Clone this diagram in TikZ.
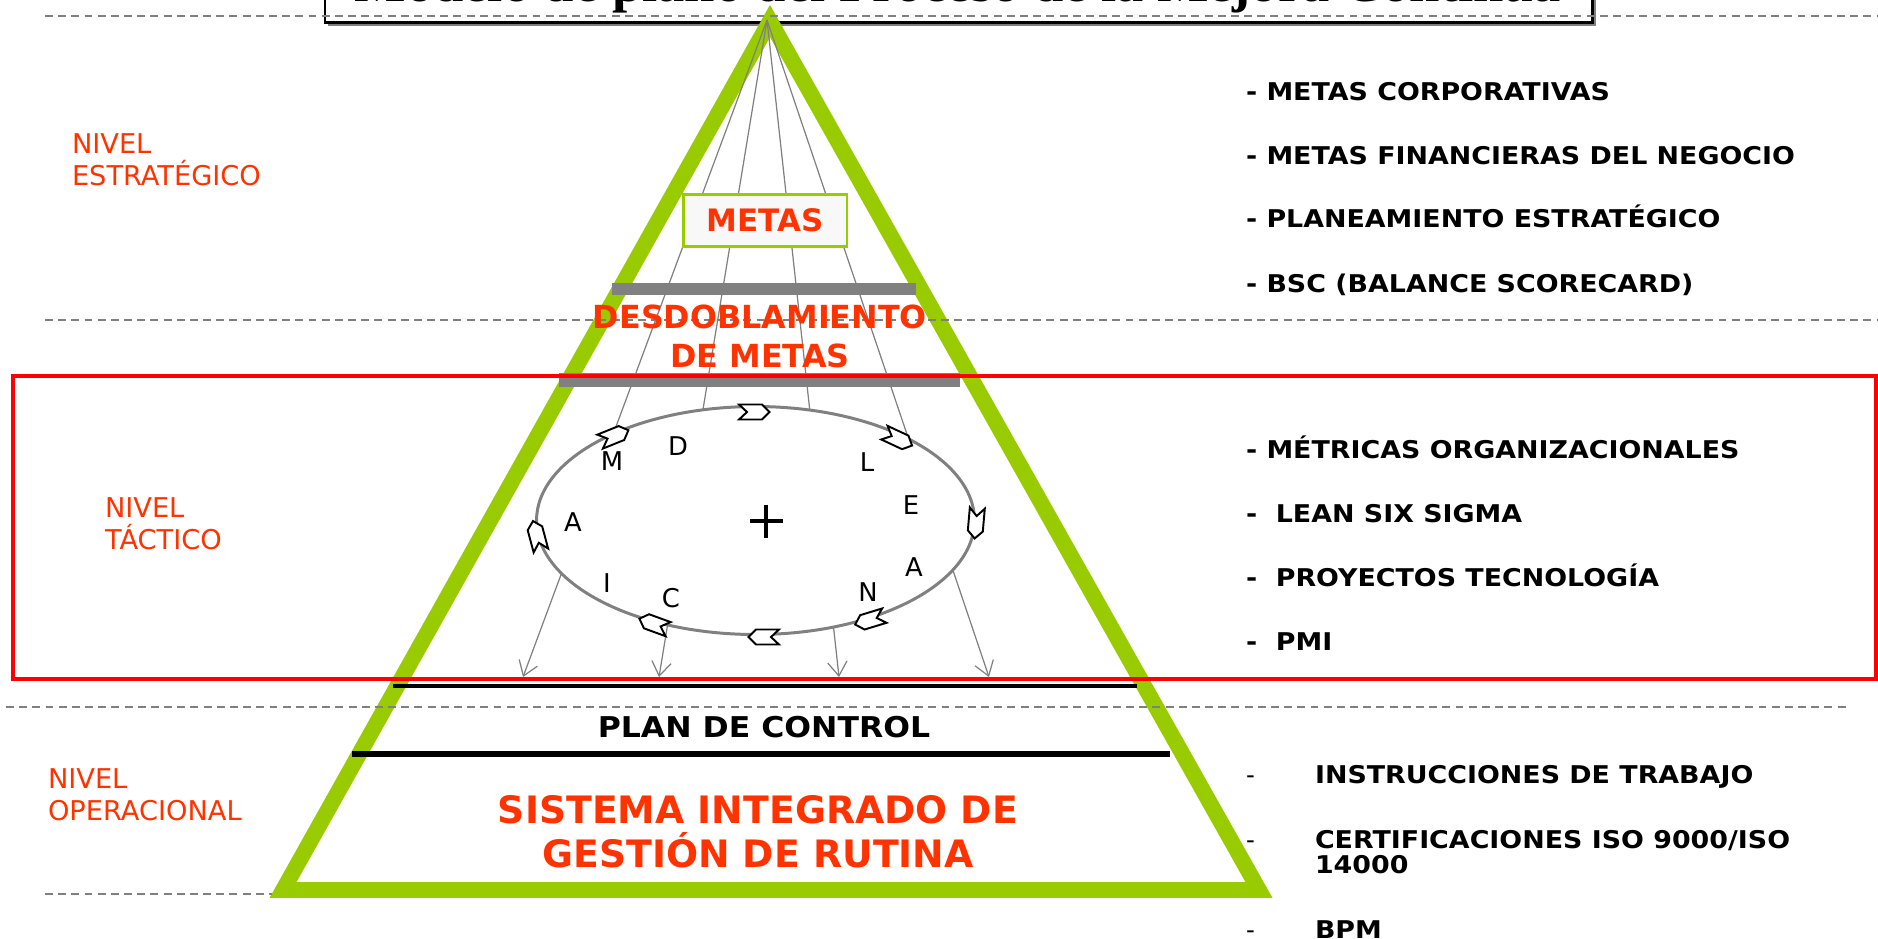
\documentclass[tikz,border=0pt]{standalone}
\usepackage{fontspec}
\setmainfont{DejaVu Sans}
\newfontfamily\vbs{DejaVu Sans}[FakeStretch=1.1]
\newfontfamily\vbn{DejaVu Sans}
\newfontfamily\ttl{Liberation Serif}
\usetikzlibrary{arrows.meta}
\definecolor{tgreen}{RGB}{153,204,0}
\definecolor{torange}{RGB}{255,51,0}
\definecolor{mgray}{RGB}{128,128,128}
\definecolor{boxfill}{RGB}{248,248,248}
\begin{document}
\begin{tikzpicture}[x=0.02cm,y=0.02cm,
  every node/.style={inner sep=0pt, outer sep=0pt},
  dashln/.style={draw=mgray, line width=1.1pt, dash pattern=on 4.5pt off 3pt},
  fan/.style={draw=mgray, line width=0.7pt, -{Straight Barb[length=8pt,width=11pt]}},
  bar/.style={draw=mgray},
  blackbar/.style={draw=black},
  chev/.style={draw=black, fill=white, line width=1.1pt, line join=miter},
  listitem/.style={anchor=base west, font=\vbs\bfseries\fontsize{13.9pt}{16pt}\selectfont},
  dashitem/.style={anchor=base west, font=\vbn\fontsize{13.9pt}{16pt}\selectfont},
  levellabel/.style={anchor=base west, text=torange, font=\vbn\fontsize{15.5pt}{18pt}\selectfont},
  cycleletter/.style={font=\vbn\fontsize{14.7pt}{17pt}\selectfont},
  centertitle/.style={anchor=base, text=torange, font=\vbn\bfseries\fontsize{18.1pt}{21pt}\selectfont},
  bigtitle/.style={anchor=base, text=torange, font=\vbn\bfseries\fontsize{21.5pt}{25pt}\selectfont}
]
\useasboundingbox (0,0) rectangle (1878,-938);

% title box (cut off at the top)
\draw[mgray, line width=1.2pt] (328,-25) -- (1595,-25) -- (1595,40);
\draw[black, line width=1.7pt] (325,40) rectangle (1592,-22);
\node[anchor=base, font=\ttl\bfseries\fontsize{31pt}{35pt}\selectfont] (title) at (958,-1) {Modelo de plano del Proceso de la Mejora Continua};

% pyramid
\draw[tgreen, line width=9pt, line join=miter, miter limit=10] (770,-21) -- (1259,-890) -- (283,-890) -- cycle;

% fan lines
\coordinate (apex) at (767,-20);
\coordinate (t1) at (523,-677);
\coordinate (t2) at (659,-677);
\coordinate (t3) at (839,-677);
\coordinate (t4) at (989,-677);
\foreach \t in {t1,t2,t3,t4} \draw[fan] (apex) -- (\t);

% cycle ellipse
\draw[mgray, fill=white, line width=1.7pt] (755.5,-520.5) ellipse [x radius=219, y radius=114];
\draw[line width=2.3pt] (749.5,-521) -- (782.5,-521) (766,-504.5) -- (766,-537.5);
\foreach \cx/\cy/\ang in {754/412/0, 898/439/-25, 976/523/-95, 870/620/-163, 764/637/180, 654/624/160, 537/536/105, 614/436/22}
  \draw[chev, shift={(\cx,-\cy)}, rotate=\ang] (-15,7.5) -- (8,7.5) -- (15.5,0) -- (8,-7.5) -- (-15,-7.5) -- (-7,0) -- cycle;
\node[cycleletter] (lM) at (612,-461) {M};
\node[cycleletter] (lD) at (678,-446) {D};
\node[cycleletter] (lL) at (867,-462) {L};
\node[cycleletter] (lE) at (911,-505) {E};
\node[cycleletter] (lA1) at (573,-522) {A};
\node[cycleletter] (lA2) at (914,-567) {A};
\node[cycleletter] (lI) at (607,-583) {I};
\node[cycleletter] (lC) at (671,-598) {C};
\node[cycleletter] (lN) at (868,-592) {N};

% METAS box
\node[draw=tgreen, fill=boxfill, line width=1.7pt, minimum width=3.28cm, minimum height=1.04cm] (metasbox) at (765,-220) {};
\node[anchor=center, text=torange, font=\vbn\bfseries\fontsize{17.6pt}{20pt}\selectfont] (metas) at (765,-220.5) {METAS};

% bars
\draw[bar, line width=6.8pt] (612,-289) -- (916,-289);
\draw[bar, line width=7.9pt] (559,-380) -- (960,-380);
\draw[blackbar, line width=2.8pt] (393,-686) -- (1137,-686);
\draw[blackbar, line width=3.4pt] (352,-754) -- (1170,-754);

% dashed level lines
\draw[dashln] (45,-16) -- (1878,-16);
\draw[dashln] (45,-320) -- (1878,-320);
\draw[dashln] (6,-707) -- (1850,-707);
\draw[dashln] (45,-894) -- (272,-894);

% tactical frame
\draw[red, line width=2.3pt] (13,-376) rectangle (1876,-679);

% center texts
\node[centertitle] (desd1) at (760,-328.5) {DESDOBLAMIENTO};
\node[centertitle] (desd2) at (760,-367.5) {DE METAS};
\node[anchor=base, font=\vbs\bfseries\fontsize{16.3pt}{19pt}\selectfont] (plan) at (764,-737) {PLAN DE CONTROL};
\node[bigtitle] (sis1) at (758,-823) {SISTEMA INTEGRADO DE};
\node[bigtitle] (sis2) at (758,-867) {GESTIÓN DE RUTINA};

% level labels
\node[levellabel] (ne1) at (72,-153) {NIVEL};
\node[levellabel] (ne2) at (72,-185) {ESTRATÉGICO};
\node[levellabel] (nt1) at (105,-517) {NIVEL};
\node[levellabel] (nt2) at (105,-549) {TÁCTICO};
\node[levellabel] (no1) at (48,-788) {NIVEL};
\node[levellabel] (no2) at (48,-820) {OPERACIONAL};

% right lists
\node[listitem] (s1) at (1246,-100) {- METAS CORPORATIVAS};
\node[listitem] (s2) at (1246,-164) {- METAS FINANCIERAS DEL NEGOCIO};
\node[listitem] (s3) at (1246,-227) {- PLANEAMIENTO ESTRATÉGICO};
\node[listitem] (s4) at (1246,-292) {- BSC (BALANCE SCORECARD)};
\node[listitem] (m1) at (1246,-458) {- MÉTRICAS ORGANIZACIONALES};
\node[listitem] (m2) at (1246,-522) {-~ LEAN SIX SIGMA};
\node[listitem] (m3) at (1246,-586) {-~ PROYECTOS TECNOLOGÍA};
\node[listitem] (m4) at (1246,-650) {-~ PMI};
\node[dashitem] (d1) at (1246,-783) {-};
\node[dashitem] (d2) at (1246,-848) {-};
\node[dashitem] (d3) at (1246,-938) {-};
\node[listitem] (o1) at (1315,-783) {INSTRUCCIONES DE TRABAJO};
\node[listitem] (o2a) at (1315,-848) {CERTIFICACIONES ISO 9000/ISO};
\node[listitem] (o2b) at (1315,-873) {14000};
\node[listitem] (o3) at (1315,-938) {BPM};
\end{tikzpicture}
\end{document}
